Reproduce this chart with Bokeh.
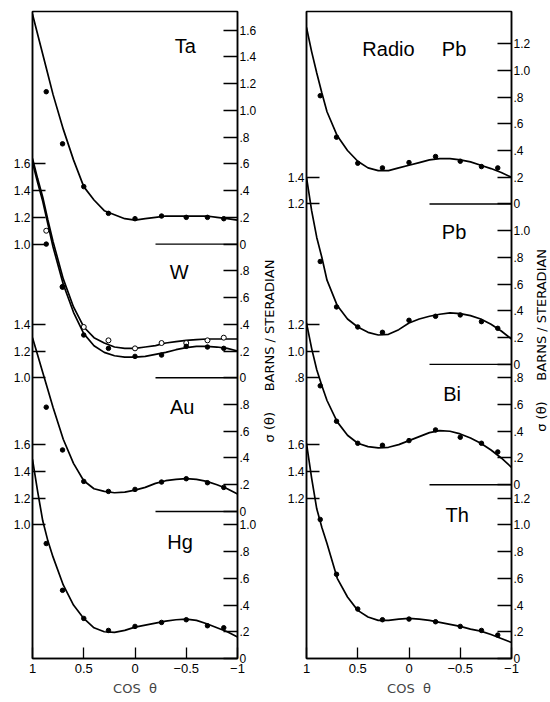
import math
from bokeh.plotting import figure
from bokeh.models import Range1d, LinearAxis, FixedTicker, ColumnDataSource
from bokeh.layouts import row
from bokeh.core.properties import value
from bokeh.embed import file_html
from bokeh.resources import INLINE

# ---------------- data ----------------
COS_GRID = [1.0, 0.95, 0.9, 0.85, 0.8, 0.7, 0.6, 0.5, 0.4, 0.3, 0.2, 0.1, 0.0,
            -0.1, -0.2, -0.3, -0.4, -0.5, -0.6, -0.7, -0.8, -0.9, -1.0]
COS_POINTS = [0.866, 0.707, 0.5, 0.259, 0.0, -0.259, -0.5, -0.707, -0.866]

# left panel: Ta, W (two series), Au, Hg   (barns / steradian)
TA_CURVE = [1.72, 1.57, 1.42, 1.27, 1.12, 0.86, 0.63, 0.43, 0.33, 0.25, 0.22, 0.19, 0.18,
            0.19, 0.20, 0.21, 0.21, 0.21, 0.21, 0.21, 0.20, 0.19, 0.18]
TA_POINTS = [1.14, 0.75, 0.43, 0.23, 0.19, 0.21, 0.20, 0.20, 0.19]

W_OPEN_CURVE = [1.64, 1.49, 1.35, 1.18, 1.02, 0.74, 0.53, 0.38, 0.30, 0.26, 0.23, 0.22, 0.22,
                0.23, 0.24, 0.26, 0.27, 0.28, 0.285, 0.29, 0.29, 0.29, 0.29]
W_OPEN_POINTS = [1.10, 0.68, 0.38, 0.28, 0.22, 0.26, 0.26, 0.28, 0.30]
W_FILLED_CURVE = [1.61, 1.46, 1.32, 1.15, 0.98, 0.70, 0.49, 0.33, 0.24, 0.19, 0.165, 0.155, 0.155,
                  0.16, 0.175, 0.19, 0.21, 0.225, 0.235, 0.235, 0.23, 0.22, 0.20]
W_FILLED_POINTS = [1.00, 0.68, 0.32, 0.22, 0.16, 0.17, 0.235, 0.23, 0.22]

AU_CURVE = [1.30, 1.17, 1.04, 0.91, 0.78, 0.54, 0.36, 0.23, 0.17, 0.15, 0.14, 0.145, 0.16,
            0.18, 0.21, 0.23, 0.24, 0.245, 0.24, 0.225, 0.20, 0.17, 0.13]
AU_POINTS = [0.78, 0.46, 0.225, 0.15, 0.165, 0.22, 0.245, 0.215, 0.18]

HG_CURVE = [1.49, 1.25, 1.03, 0.88, 0.76, 0.55, 0.40, 0.30, 0.23, 0.20, 0.195, 0.21, 0.235,
            0.25, 0.265, 0.28, 0.29, 0.295, 0.285, 0.26, 0.23, 0.20, 0.16]
HG_POINTS = [0.86, 0.51, 0.30, 0.21, 0.24, 0.27, 0.29, 0.245, 0.23]

# right panel: Radio Pb, Pb, Bi, Th
RPB_CURVE = [1.32, 1.14, 0.98, 0.83, 0.69, 0.51, 0.40, 0.32, 0.27, 0.25, 0.25, 0.27, 0.29,
             0.31, 0.33, 0.34, 0.34, 0.33, 0.315, 0.29, 0.265, 0.235, 0.20]
RPB_POINTS = [0.81, 0.50, 0.305, 0.27, 0.31, 0.355, 0.32, 0.28, 0.27]

PB_CURVE = [1.40, 1.15, 0.95, 0.80, 0.63, 0.44, 0.34, 0.28, 0.24, 0.22, 0.225, 0.26, 0.31,
            0.34, 0.36, 0.375, 0.385, 0.38, 0.365, 0.34, 0.30, 0.25, 0.19]
PB_POINTS = [0.77, 0.43, 0.28, 0.24, 0.33, 0.36, 0.37, 0.32, 0.27]

BI_CURVE = [1.21, 1.02, 0.86, 0.74, 0.63, 0.47, 0.37, 0.31, 0.285, 0.275, 0.28, 0.30, 0.33,
            0.36, 0.39, 0.405, 0.40, 0.38, 0.35, 0.31, 0.26, 0.20, 0.13]
BI_POINTS = [0.74, 0.475, 0.31, 0.295, 0.33, 0.41, 0.355, 0.31, 0.245]

TH_CURVE = [1.61, 1.35, 1.12, 0.98, 0.86, 0.60, 0.46, 0.36, 0.31, 0.285, 0.285, 0.295, 0.30,
            0.295, 0.285, 0.27, 0.255, 0.24, 0.22, 0.205, 0.18, 0.15, 0.12]
TH_POINTS = [1.04, 0.63, 0.37, 0.29, 0.295, 0.275, 0.24, 0.21, 0.175]

# vertical offsets of each stacked curve (in barns / steradian of the common scale)
LEFT_OFFSETS = {"Ta": 3.1, "W": 2.1, "Au": 1.1, "Hg": 0.0}
RIGHT_OFFSETS = {"Radio Pb": 3.4, "Pb": 2.2, "Bi": 1.3, "Th": 0.0}

# tick values on each element's own scale
LEFT_PANEL_RIGHT_TICKS = {"Ta": [0, 0.2, 0.4, 0.6, 0.8, 1.0, 1.2, 1.4, 1.6],
                          "W": [0, 0.2, 0.4, 0.6, 0.8],
                          "Au": [0, 0.2, 0.4, 0.6, 0.8],
                          "Hg": [0, 0.2, 0.4, 0.6, 0.8, 1.0]}
LEFT_PANEL_LEFT_TICKS = {"W": [1.0, 1.2, 1.4, 1.6],
                         "Au": [1.0, 1.2, 1.4],
                         "Hg": [1.0, 1.2, 1.4, 1.6]}
RIGHT_PANEL_RIGHT_TICKS = {"Radio Pb": [0, 0.2, 0.4, 0.6, 0.8, 1.0, 1.2],
                           "Pb": [0, 0.2, 0.4, 0.6, 0.8, 1.0],
                           "Bi": [0, 0.2, 0.4, 0.6, 0.8],
                           "Th": [0, 0.2, 0.4, 0.6, 0.8, 1.0, 1.2]}
RIGHT_PANEL_LEFT_TICKS = {"Pb": [1.2, 1.4],
                          "Bi": [0.8, 1.0, 1.2],
                          "Th": [1.2, 1.4, 1.6]}
ZERO_LINES_LEFT = ["Ta", "W", "Au"]
ZERO_LINES_RIGHT = ["Radio Pb", "Pb", "Bi"]

X_TICKS = [1, 0.5, 0, -0.5, -1]
X_TICK_LABELS = ["1", "0.5", "0", "\u22120.5", "\u22121"]
Y_TITLE = "\u03c3 (\u03b8)\u00a0\u00a0\u00a0\u00a0\u00a0BARNS / STERADIAN"
X_TITLE = "COS\u00a0\u00a0\u03b8"

FONT = "Liberation Sans"
TITLE_FONT = "DejaVu Sans"
Y_MAX = 4.84
HEIGHT = 698
TOP, BOTTOM = 11, 36


def fmt(v):
    if v == 0:
        return "0"
    s = f"{v:.1f}"
    return s[1:] if v < 1 else s


def tick_set(ticks, offsets):
    pos, labels = [], {}
    for name, vals in ticks.items():
        for v in vals:
            t = round(offsets[name] + v, 4)
            if t not in labels:
                pos.append(t)
                labels[t] = fmt(v)
    return pos, labels


def style_axis(ax, tick_in):
    ax.axis_line_width = 1.5
    ax.axis_line_color = "black"
    ax.major_tick_in = tick_in
    ax.major_tick_out = 0
    ax.minor_tick_in = 0
    ax.minor_tick_out = 0
    ax.major_tick_line_width = 1.3
    ax.major_tick_line_color = "black"
    ax.major_label_text_font = FONT
    ax.major_label_text_font_size = "12px"
    ax.major_label_text_color = "black"
    ax.major_label_standoff = 2


def make_panel(width, min_left, min_right, series, offsets, right_ticks, left_ticks,
               zero_names, names, name_pos):
    p = figure(width=width, height=HEIGHT, x_range=Range1d(1, -1), y_range=Range1d(0, Y_MAX),
               output_backend="svg", toolbar_location=None,
               min_border_left=min_left, min_border_right=min_right,
               min_border_top=TOP, min_border_bottom=BOTTOM)
    p.xgrid.visible = False
    p.ygrid.visible = False
    p.outline_line_color = "black"
    p.outline_line_width = 1.5
    p.background_fill_color = "white"
    p.border_fill_color = "white"

    # x axis
    xa = p.xaxis[0]
    style_axis(xa, 11)
    xa.ticker = FixedTicker(ticks=X_TICKS)
    xa.major_label_overrides = {t: l for t, l in zip(X_TICKS, X_TICK_LABELS)}
    xa.major_label_text_font_size = "13px"
    xa.major_label_standoff = 5
    xa.axis_label = X_TITLE
    xa.axis_label_text_font = TITLE_FONT
    xa.axis_label_text_font_style = "normal"
    xa.axis_label_text_font_size = "13px"
    xa.axis_label_standoff = 5

    # left axis
    ya = p.yaxis[0]
    style_axis(ya, 13)
    lpos, llab = tick_set(left_ticks, offsets)
    ya.ticker = FixedTicker(ticks=lpos)
    ya.major_label_overrides = llab

    # right axis
    rpos, rlab = tick_set(right_ticks, offsets)
    ra = LinearAxis(ticker=FixedTicker(ticks=rpos), major_label_overrides=rlab)
    style_axis(ra, 14)
    p.add_layout(ra, "right")

    # zero baselines
    for name in zero_names:
        p.line([-0.2, -1.0], [offsets[name], offsets[name]], line_color="black", line_width=1.4)

    # curves and points
    for name, curve, pts, kind in series:
        off = offsets[name]
        p.line(COS_GRID, [v + off for v in curve], line_color="black", line_width=1.7)
        ys = [v + off for v in pts]
        if kind == "open":
            p.scatter(COS_POINTS, ys, marker="circle", size=5, fill_color="white",
                      line_color="black", line_width=1)
        else:
            p.scatter(COS_POINTS, ys, marker="circle", size=4.5, fill_color="black",
                      line_color="black")

    # element names
    src = ColumnDataSource(dict(x=[c for c, _ in name_pos], y=[y for _, y in name_pos], t=names))
    p.text(x="x", y="y", text="t", source=src, text_font=value(FONT),
           text_font_size=value("20px"), text_align="center", text_baseline="middle",
           text_color="black")
    return p


def make_title_strip(width, y_center):
    """Narrow strip that carries the rotated ordinate title to the right of a panel."""
    s = figure(width=width, height=HEIGHT, x_range=Range1d(0, 1), y_range=Range1d(0, Y_MAX),
               output_backend="svg", toolbar_location=None,
               x_axis_type=None, y_axis_type=None,
               min_border_left=0, min_border_right=0,
               min_border_top=TOP, min_border_bottom=BOTTOM)
    s.xgrid.visible = False
    s.ygrid.visible = False
    s.outline_line_color = None
    s.background_fill_color = "white"
    s.border_fill_color = "white"
    s.text(x=[0.45], y=[y_center], text=[Y_TITLE], angle=math.pi / 2,
           text_font=value(TITLE_FONT), text_font_size=value("13px"),
           text_align="center", text_baseline="middle", text_color="black")
    return s


left_series = [("Ta", TA_CURVE, TA_POINTS, "filled"),
               ("W", W_OPEN_CURVE, W_OPEN_POINTS, "open"),
               ("W", W_FILLED_CURVE, W_FILLED_POINTS, "filled"),
               ("Au", AU_CURVE, AU_POINTS, "filled"),
               ("Hg", HG_CURVE, HG_POINTS, "filled")]
right_series = [("Radio Pb", RPB_CURVE, RPB_POINTS, "filled"),
                ("Pb", PB_CURVE, PB_POINTS, "filled"),
                ("Bi", BI_CURVE, BI_POINTS, "filled"),
                ("Th", TH_CURVE, TH_POINTS, "filled")]

LEFT_NAMES = ["Ta", "W", "Au", "Hg"]
LEFT_NAME_POS = [(-0.49, 4.58), (-0.43, 2.89), (-0.46, 1.88), (-0.44, 0.87)]
RIGHT_NAMES = ["Radio", "Pb", "Pb", "Bi", "Th"]
RIGHT_NAME_POS = [(0.20, 4.56), (-0.44, 4.56), (-0.44, 3.19), (-0.42, 1.98), (-0.47, 1.07)]

p1 = make_panel(261, 32, 24, left_series, LEFT_OFFSETS, LEFT_PANEL_RIGHT_TICKS,
                LEFT_PANEL_LEFT_TICKS, ZERO_LINES_LEFT, LEFT_NAMES, LEFT_NAME_POS)
t1 = make_title_strip(17, 2.30)
p2 = make_panel(255, 28, 22, right_series, RIGHT_OFFSETS, RIGHT_PANEL_RIGHT_TICKS,
                RIGHT_PANEL_LEFT_TICKS, ZERO_LINES_RIGHT, RIGHT_NAMES, RIGHT_NAME_POS)
t2 = make_title_strip(17, 2.38)

layout = row(p1, t1, p2, t2)
open("out.html", "w").write(file_html(layout, INLINE))
